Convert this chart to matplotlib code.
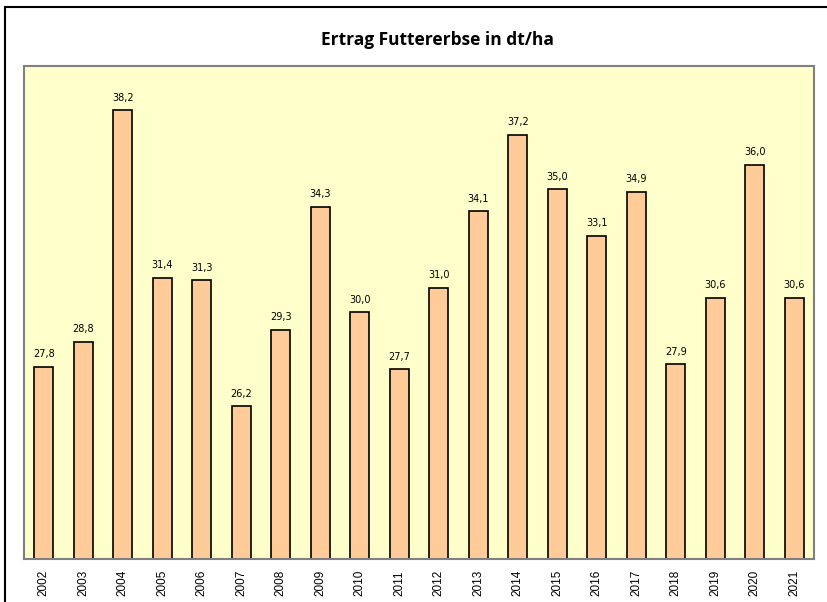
import matplotlib
matplotlib.use("Agg")
import matplotlib.pyplot as plt
from matplotlib.patches import Rectangle

years = [str(y) for y in range(2002, 2022)]
ertrag = [27.8, 28.8, 38.2, 31.4, 31.3, 26.2, 29.3, 34.3, 30.0, 27.7,
          31.0, 34.1, 37.2, 35.0, 33.1, 34.9, 27.9, 30.6, 36.0, 30.6]
title = "Ertrag Futtererbse in dt/ha"

W, H = 827, 602
fig = plt.figure(figsize=(W / 100, H / 100), dpi=100)
fig.patch.set_facecolor("white")

# outer frame (cut off at right/bottom like the source)
fig.patches.append(Rectangle((5 / W, -0.1), 1.2, 1 - 7 / H + 0.1, transform=fig.transFigure,
                             fill=False, edgecolor="black", linewidth=1.5))

ax = fig.add_axes([24 / W, 1 - 559 / H, (814 - 24) / W, (559 - 66) / H])
ax.set_facecolor("#FFFFCC")
x = list(range(len(years)))
ax.bar(x, ertrag, width=0.48, color="#FFCC99", edgecolor="black", linewidth=1.2, bottom=0)
ax.set_ylim(20, 40)
ax.set_xlim(-0.5, len(years) - 0.5)
ax.set_yticks([])
ax.set_xticks(x)
ax.set_xticklabels(years, rotation=90, fontsize=8.5, family="Liberation Sans")
ax.tick_params(axis="x", length=0, pad=8)
for s in ax.spines.values():
    s.set_color("#808080")
    s.set_linewidth(1.5)

for xi, v in zip(x, ertrag):
    ax.annotate(f"{v:.1f}".replace(".", ","), (xi, v), xytext=(0, 5.5), textcoords="offset points",
                ha="center", va="bottom", fontsize=7, family="DejaVu Sans")

fig.text(437 / W, 1 - 40 / H, title, ha="center", va="center", fontsize=12.5,
         fontweight="bold", family="Open Sans")

fig.savefig("out.png", dpi=100)
